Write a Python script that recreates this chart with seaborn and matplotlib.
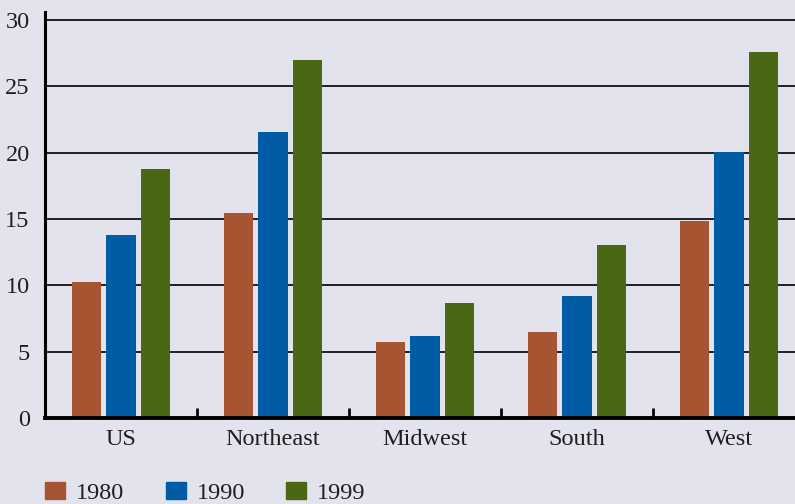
import matplotlib
matplotlib.use("Agg")
import matplotlib.pyplot as plt
import matplotlib.patches as mpatches
import numpy as np
import pandas as pd
import seaborn as sns

# data
regions = ["US", "Northeast", "Midwest", "South", "West"]
years = ["1980", "1990", "1999"]
vals_1980 = [10.25, 15.45, 5.7, 6.5, 14.85]
vals_1990 = [13.8, 21.55, 6.2, 9.2, 20.05]
vals_1999 = [18.75, 27.0, 8.65, 13.05, 27.6]
yticks = [0, 5, 10, 15, 20, 25, 30]

bg = "#e3e3ee"
colors = ["#a65432", "#005ca4", "#4a6814"]

df = pd.DataFrame({
    "region": regions * 3,
    "year": [y for y in years for _ in regions],
    "value": vals_1980 + vals_1990 + vals_1999,
})

sns.set_style("white")
plt.rcParams["font.family"] = ["Liberation Serif", "DejaVu Serif"]
plt.rcParams["text.color"] = "#1e1e1e"

fig = plt.figure(figsize=(7.95, 5.04), dpi=100, facecolor=bg)
ax = fig.add_axes([45 / 795, 86 / 504, 750 / 795, 406 / 504])
ax.set_facecolor(bg)

sns.barplot(data=df, x="region", y="value", hue="year", palette=colors,
            width=0.69, gap=0.17, saturation=1, linewidth=0, ax=ax, legend=False)

ax.set_xlim(-0.5, -0.5 + 750 / 152)
ax.set_ylim(0, 30.6)
ax.set_yticks(yticks)
ax.set_yticklabels([str(t) for t in yticks])
ax.yaxis.grid(True, color="black", linewidth=1.2)
ax.set_axisbelow(True)

for s in ["top", "right"]:
    ax.spines[s].set_visible(False)
ax.spines["left"].set_linewidth(2.2)
ax.spines["bottom"].set_linewidth(2.8)
ax.spines["left"].set_color("black")
ax.spines["bottom"].set_color("black")

ax.tick_params(axis="y", length=0, pad=11, labelsize=17.5, labelcolor="#1e1e1e")
ax.tick_params(axis="x", which="major", length=0, pad=8, labelsize=17.5, labelcolor="#1e1e1e")
# small boundary ticks between the regions
ax.set_xticks(np.arange(0.5, 4, 1), minor=True)
ax.tick_params(axis="x", which="minor", bottom=True, direction="in", length=7, width=2,
               color="black")
ax.set_xlabel("")
ax.set_ylabel("")

handles = [mpatches.Patch(color=c, label=y) for c, y in zip(colors, years)]
fig.legend(handles=handles, loc="lower left", bbox_to_anchor=(45 / 795, 0), ncol=3,
           frameon=False, fontsize=17.5, borderpad=0, borderaxespad=0,
           handlelength=0.82, handleheight=0.66,
           handletextpad=0.45, columnspacing=1.71)

fig.savefig("out.png", dpi=100, facecolor=bg)
